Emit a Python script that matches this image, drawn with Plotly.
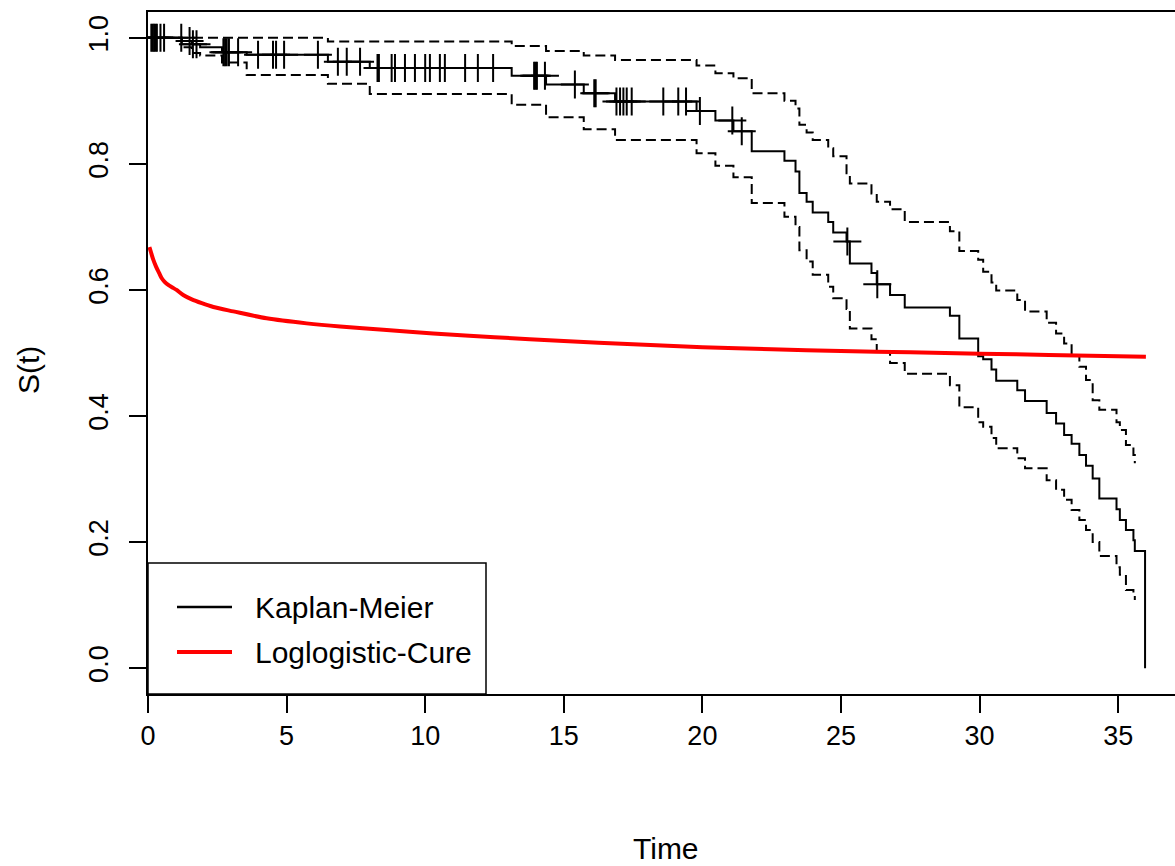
import plotly.graph_objects as go
import numpy as np

# Kaplan-Meier step function (time, survival)
km_time = [0, 1.22, 1.58, 1.88, 2.67, 3.56, 6.49, 8.0, 13.12, 14.36, 15.72, 16.85,
           19.79, 20.47, 21.12, 21.78, 22.96, 23.36, 23.5, 23.76, 23.98, 24.54, 24.72,
           25.2, 25.32, 26.1, 26.29, 26.77, 27.3, 28.93, 29.27, 29.95, 30.13, 30.43,
           30.6, 31.36, 31.64, 32.42, 32.76, 33.05, 33.32, 33.6, 33.84, 34.08, 34.32,
           34.94, 35.06, 35.28, 35.55, 35.6, 35.97]
km_surv = [1.0, 0.995, 0.990, 0.985, 0.977, 0.973, 0.962, 0.952, 0.940, 0.926, 0.912, 0.899,
           0.884, 0.869, 0.852, 0.820, 0.805, 0.788, 0.754, 0.740, 0.723, 0.708, 0.691,
           0.677, 0.642, 0.627, 0.609, 0.592, 0.572, 0.559, 0.523, 0.495, 0.490, 0.474,
           0.456, 0.441, 0.424, 0.405, 0.388, 0.370, 0.356, 0.338, 0.321, 0.301, 0.269,
           0.252, 0.235, 0.219, 0.203, 0.186, 0.0]

# Confidence band (same step times, up to 35.6)
ci_upper = [1.0, 1.0, 1.0, 1.0, 1.0, 1.0, 0.994, 0.994, 0.987, 0.979, 0.972, 0.965,
            0.956, 0.944, 0.936, 0.912, 0.900, 0.888, 0.862, 0.850, 0.838, 0.825, 0.812,
            0.785, 0.769, 0.753, 0.740, 0.728, 0.708, 0.693, 0.662, 0.648, 0.629, 0.612,
            0.599, 0.584, 0.566, 0.548, 0.531, 0.515, 0.497, 0.478, 0.457, 0.425, 0.410,
            0.390, 0.378, 0.354, 0.338, 0.325]
ci_lower = [1.0, 0.985, 0.976, 0.972, 0.961, 0.941, 0.927, 0.911, 0.894, 0.874, 0.855, 0.838,
            0.817, 0.797, 0.779, 0.738, 0.716, 0.700, 0.663, 0.645, 0.624, 0.605, 0.587,
            0.570, 0.539, 0.522, 0.502, 0.484, 0.467, 0.449, 0.414, 0.390, 0.383, 0.365,
            0.349, 0.333, 0.317, 0.298, 0.283, 0.267, 0.251, 0.235, 0.219, 0.200, 0.178,
            0.160, 0.148, 0.124, 0.115, 0.108]

# Censoring times
censor_time = [0.12, 0.17, 0.22, 0.27, 0.32, 0.45, 0.58, 1.2, 1.5, 1.62, 1.75,
               2.72, 2.78, 2.84, 2.92, 3.25, 3.97, 4.51, 4.62, 4.91, 6.13,
               6.85, 7.17, 7.65, 8.28, 8.33, 8.79, 8.91, 9.27, 9.63, 10.0, 10.17,
               10.53, 10.71, 11.44, 11.9, 12.45, 13.93, 13.98, 14.03, 14.32, 15.4,
               16.1, 16.15, 16.9, 17.03, 17.15, 17.27, 17.45, 18.59, 19.13, 19.41,
               19.91, 21.08, 21.42, 25.23, 26.31]

# Loglogistic-cure fitted curve
cure_time = [0.05, 0.1, 0.19, 0.29, 0.4, 0.49, 0.6, 0.73, 0.88, 1.03, 1.27, 1.58, 1.94,
             2.36, 3.08, 4.28, 5.72, 6.93, 8.49, 10.29, 12.5, 15, 17.5, 20, 22.5, 25,
             27.5, 30, 32.5, 36]
cure_surv = [0.668, 0.661, 0.648, 0.637, 0.627, 0.619, 0.613, 0.608, 0.604, 0.600, 0.592,
             0.585, 0.579, 0.573, 0.566, 0.555, 0.547, 0.542, 0.537, 0.531, 0.525, 0.519,
             0.514, 0.509, 0.506, 0.503, 0.501, 0.499, 0.497, 0.494]

x_ticks = [0, 5, 10, 15, 20, 25, 30, 35]
y_ticks = [0.0, 0.2, 0.4, 0.6, 0.8, 1.0]
y_ticktext = ["0.0", "0.2", "0.4", "0.6", "0.8", "1.0"]

km_t = np.array(km_time)
km_s = np.array(km_surv)
censor_s = [km_s[np.searchsorted(km_t, t, side="right") - 1] for t in censor_time]

FONT = "Liberation Sans, Arial, sans-serif"
TICK_SIZE = 27
TEXT_SIZE = 30
fig = go.Figure()

fig.add_trace(go.Scatter(x=km_time[:len(ci_upper)], y=ci_upper, mode="lines", line_shape="hv",
                         line=dict(color="black", width=2, dash="10px,5px"), name="upper"))
fig.add_trace(go.Scatter(x=km_time[:len(ci_lower)], y=ci_lower, mode="lines", line_shape="hv",
                         line=dict(color="black", width=2, dash="10px,5px"), name="lower"))
fig.add_trace(go.Scatter(x=km_time, y=km_surv, mode="lines", line_shape="hv",
                         line=dict(color="black", width=2), name="Kaplan-Meier"))
fig.add_trace(go.Scatter(x=censor_time, y=censor_s, mode="markers",
                         marker=dict(symbol="cross-thin", size=20, color="black",
                                     line=dict(color="black", width=2)),
                         name="censored"))
fig.add_trace(go.Scatter(x=cure_time, y=cure_surv, mode="lines",
                         line=dict(color="#ff0000", width=4, shape="spline", smoothing=0.8),
                         name="Loglogistic-Cure"))

L, R, T, B = 148, 1175, 12, 694
W, H = R - L, B - T


def px(x):
    return (x - L) / W


def py(y):
    return (B - y) / H


fig.update_layout(
    width=1175, height=866,
    margin=dict(l=L, r=1175 - R, t=T, b=866 - B),
    plot_bgcolor="white", paper_bgcolor="white",
    showlegend=False,
    font=dict(family=FONT, size=TICK_SIZE, color="black"),
    xaxis=dict(range=[0, 37.05], tickvals=x_ticks, ticks="outside", ticklen=17,
               tickwidth=2, tickcolor="black", showline=True, linewidth=2,
               linecolor="black", mirror=True, showgrid=False, zeroline=False,
               tickfont=dict(family=FONT, size=TICK_SIZE, color="black")),
    yaxis=dict(range=[-0.041, 1.041], tickvals=y_ticks, ticktext=y_ticktext,
               tickangle=-90, ticks="outside", ticklen=17, tickwidth=2,
               tickcolor="black", showline=True, linewidth=2, linecolor="black",
               showgrid=False, zeroline=False, ticklabelstandoff=10,
               tickfont=dict(family=FONT, size=TICK_SIZE, color="black")),
    annotations=[
        dict(text="S(t)", x=px(28), y=py(370), xref="paper", yref="paper",
             textangle=-90, showarrow=False, xanchor="center", yanchor="middle",
             font=dict(family=FONT, size=TEXT_SIZE, color="black")),
        dict(text="Time", x=px(666), y=py(848), xref="paper", yref="paper",
             showarrow=False, xanchor="center", yanchor="middle",
             font=dict(family=FONT, size=TEXT_SIZE, color="black")),
        dict(text="Kaplan-Meier", x=px(253), y=py(607), xref="paper", yref="paper",
             showarrow=False, xanchor="left", yanchor="middle",
             font=dict(family=FONT, size=TEXT_SIZE, color="black")),
        dict(text="Loglogistic-Cure", x=px(253), y=py(652), xref="paper", yref="paper",
             showarrow=False, xanchor="left", yanchor="middle",
             font=dict(family=FONT, size=TEXT_SIZE, color="black")),
    ],
    shapes=[
        dict(type="rect", xref="paper", yref="paper", x0=0, x1=px(486), y0=0, y1=py(563),
             line=dict(color="black", width=1.5), fillcolor="white", layer="above"),
        dict(type="line", xref="paper", yref="paper", x0=px(177), x1=px(232),
             y0=py(607), y1=py(607), line=dict(color="black", width=2.5)),
        dict(type="line", xref="paper", yref="paper", x0=px(177), x1=px(232),
             y0=py(652), y1=py(652), line=dict(color="#ff0000", width=4)),
    ],
)

fig.write_html("out.html")
